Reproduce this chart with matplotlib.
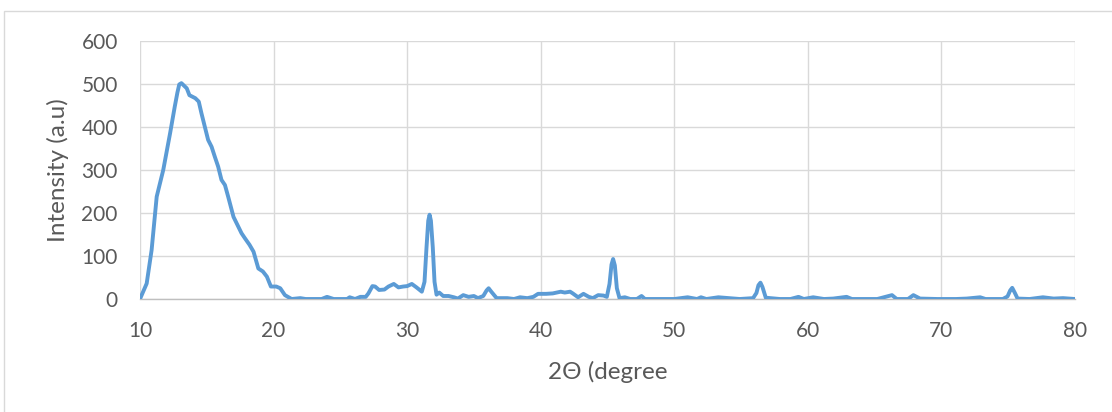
import matplotlib
matplotlib.use("Agg")
import matplotlib.pyplot as plt
from matplotlib.patches import Rectangle

plt.rcParams['font.family'] = ['Lato', 'DejaVu Sans']

two_theta = [10.0, 10.5, 10.87, 11.25, 11.5, 11.74, 12.25, 12.6, 12.8, 12.94, 13.1, 13.23, 13.5, 13.7,
             14.14, 14.4, 14.6, 14.86, 15.1, 15.36, 15.6, 15.85, 16.1, 16.36, 16.6, 17.0,
             17.24, 17.6, 17.86, 18.2, 18.5, 18.86, 19.2, 19.5, 19.8, 20.2, 20.5, 20.85,
             21.35, 22.0, 22.4, 23.6, 24.0, 24.5, 25.5, 25.7, 26.1, 26.5, 26.9, 27.1, 27.4,
             27.6, 27.9, 28.3, 28.6, 29.0, 29.35, 29.7, 30.0, 30.35, 30.7, 31.1, 31.3,
             31.45, 31.58, 31.68, 31.78, 31.92, 32.05, 32.2, 32.4, 32.7, 33.1, 33.5, 33.8, 34.2, 34.6,
             35.0, 35.3, 35.7, 35.95, 36.1, 36.3, 36.7, 37.5, 38.0, 38.45, 39.0, 39.45, 39.8,
             40.4, 40.9, 41.5, 41.8, 42.2, 42.4, 42.8, 43.2, 43.6, 43.9, 44.3, 44.7, 44.95,
             45.15, 45.3, 45.42, 45.55, 45.7, 45.9, 46.3, 46.7, 47.2, 47.55, 47.8, 50.0, 51.0,
             51.7, 52.0, 52.4, 53.3, 54.9, 55.9, 56.15, 56.3, 56.45, 56.6, 56.85, 57.9, 58.7, 59.3,
             59.7, 60.4, 61.2, 61.9, 62.9, 63.3, 65.2, 66.3, 66.65, 67.5, 67.9, 68.4,
             69.7, 71.1, 71.9, 72.9, 73.3, 74.6, 74.95, 75.15, 75.3, 75.5, 75.7, 76.6, 77.6, 78.4,
             79.1, 80.0]
intensity = [0, 36, 114, 238, 270, 300, 385, 447, 480, 499, 502, 498, 490, 474,
             467, 459, 432, 400, 370, 354, 331, 308, 277, 265, 238, 191,
             176, 153, 141, 126, 110, 71, 64, 52, 29, 29, 25, 9,
             0, 2, 0, 0, 5, 0, 0, 4, 0, 5, 5, 13, 30,
             29, 21, 22, 29, 35, 27, 29, 30, 35, 27, 17, 40,
             120, 182, 196, 182, 120, 40, 10, 15, 7, 7, 4, 1, 9, 5,
             7, 2, 7, 20, 25, 17, 2, 2, 0, 4, 2, 5, 12,
             12, 13, 17, 15, 17, 13, 4, 12, 5, 2, 9, 8, 5,
             35, 80, 93, 78, 25, 2, 4, 0, 0, 7, 0, 0, 4,
             0, 4, 0, 4, 0, 2, 14, 32, 38, 28, 3, 0, 0, 5,
             0, 4, 0, 1, 5, 0, 0, 9, 0, 0, 9, 1,
             0, 0, 1, 4, 0, 0, 6, 20, 26, 14, 1, 0, 4, 1,
             2, 0]

x_ticks = [10, 20, 30, 40, 50, 60, 70, 80]
y_ticks = [0, 100, 200, 300, 400, 500, 600]

W, H = 1112, 412
fig = plt.figure(figsize=(W / 100, H / 100), dpi=100)
fig.patches.append(Rectangle((3.5 / W, -0.1), 1.2, 1 - 10.5 / H + 0.1, transform=fig.transFigure,
                             fill=False, edgecolor='#D9D9D9', linewidth=1.0))
ax = fig.add_axes([140 / W, 1 - 299 / H, (1075 - 140) / W, (299 - 41) / H])

ax.plot(two_theta, intensity, color='#5B9BD5', linewidth=2.8, solid_joinstyle='round',
        solid_capstyle='round', zorder=3)

ax.set_xlim(10, 80)
ax.set_ylim(0, 600)
ax.set_xticks(x_ticks)
ax.set_yticks(y_ticks)
ax.grid(True, color='#D9D9D9', linewidth=1.0, zorder=0)
for s in ['top', 'right', 'left']:
    ax.spines[s].set_visible(False)
ax.spines['bottom'].set_color('#BFBFBF')
ax.spines['bottom'].set_linewidth(1.0)
ax.spines['bottom'].set_zorder(2)
ax.tick_params(axis='both', length=0, labelsize=15, colors='#595959')
ax.tick_params(axis='x', pad=16)
ax.tick_params(axis='y', pad=16)
ax.set_xlabel('2Θ (degree', fontsize=17.5, color='#595959', labelpad=14)
ax.set_ylabel('Intensity (a.u)', fontsize=17.5, color='#595959', labelpad=9)

fig.savefig('out.png', dpi=100)
